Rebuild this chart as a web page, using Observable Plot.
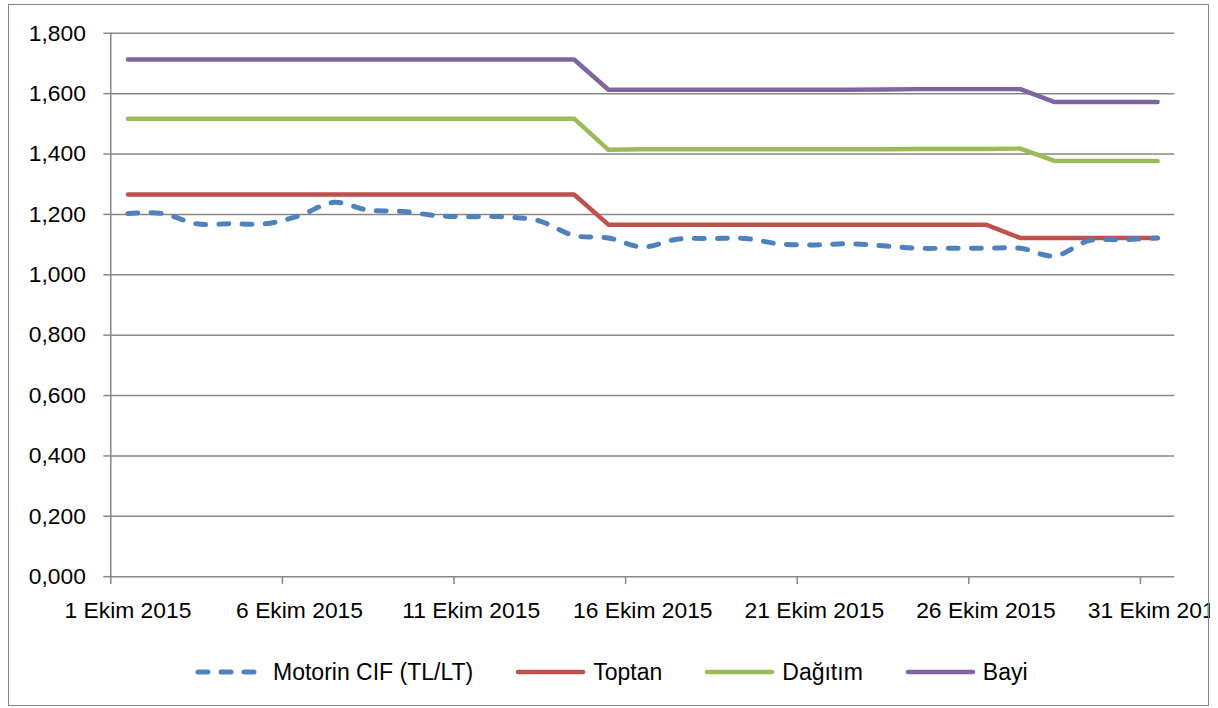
<!DOCTYPE html>
<html><head><meta charset="utf-8">
<script src="https://cdn.jsdelivr.net/npm/d3@7"></script>
<script src="https://cdn.jsdelivr.net/npm/@observablehq/plot@0.6"></script>
<style>
body{margin:0;background:#fff;font-family:"Liberation Sans",Arial,sans-serif;}
#wrap{position:relative;width:1218px;height:708px;overflow:hidden;background:#fff;}
#clip{position:absolute;left:0;top:0;width:1210px;height:708px;overflow:hidden;}
#frame{position:absolute;left:8px;top:4px;width:1199px;height:700px;border:1.5px solid #868686;pointer-events:none;}
#legend{position:absolute;left:0;top:640px;width:1218px;height:64px;display:flex;align-items:center;padding-left:195px;box-sizing:border-box;font-size:23px;color:#000;}
.item{display:flex;align-items:center;margin-right:42px;}
.item svg{margin-right:6px;}
</style>
</head><body>
<div id="wrap"><div id="clip"></div><div id="legend"></div><div id="frame"></div></div>
<script>
const days = d3.range(1, 32);
const motorinCIF = [1.203,1.203,1.169,1.169,1.169,1.196,1.240,1.214,1.210,1.196,1.192,1.192,1.178,1.130,1.122,1.092,1.118,1.120,1.120,1.102,1.099,1.103,1.096,1.088,1.088,1.088,1.088,1.062,1.113,1.116,1.122];
const toptan = [1.266,1.266,1.266,1.266,1.266,1.266,1.266,1.266,1.266,1.266,1.266,1.266,1.266,1.266,1.166,1.166,1.166,1.166,1.166,1.166,1.166,1.166,1.166,1.166,1.166,1.166,1.122,1.122,1.122,1.122,1.122];
const dagitim = [1.517,1.517,1.517,1.517,1.517,1.517,1.517,1.517,1.517,1.517,1.517,1.517,1.517,1.517,1.414,1.416,1.416,1.416,1.416,1.416,1.416,1.416,1.416,1.417,1.417,1.417,1.418,1.377,1.377,1.377,1.377];
const bayi = [1.713,1.713,1.713,1.713,1.713,1.713,1.713,1.713,1.713,1.713,1.713,1.713,1.713,1.713,1.613,1.613,1.613,1.613,1.613,1.613,1.613,1.613,1.614,1.615,1.615,1.615,1.615,1.572,1.572,1.572,1.572];
const yTicks = [0,0.2,0.4,0.6,0.8,1.0,1.2,1.4,1.6,1.8];
const xTickDays = [1,6,11,16,21,26,31];
const seriesNames = ["Motorin CIF (TL/LT)","Toptan","Dağıtım","Bayi"];
const seriesColors = ["#4F81BD","#C0504D","#9BBB59","#8064A2"];

const noon = d => new Date(Date.UTC(2015, 9, d, 12));
const dayStart = d => new Date(Date.UTC(2015, 9, d));
const seriesValues = [motorinCIF, toptan, dagitim, bayi];
const rows = seriesValues.map((vals, i) => days.map((d, j) => ({date: noon(d), value: vals[j], series: seriesNames[i]})));
const grid = "#878787";

const chart = Plot.plot({
  width: 1218, height: 640,
  marginLeft: 111, marginRight: 36, marginTop: 33, marginBottom: 60,
  x: {type: "utc", domain: [dayStart(1), new Date(Date.UTC(2015, 10, 1))]},
  y: {domain: [0, 1.8]},
  style: {fontFamily: "'Liberation Sans', Arial, sans-serif", fontSize: "23px", color: "#000", background: "transparent", overflow: "visible"},
  marks: [
    Plot.ruleY(yTicks, {stroke: grid, strokeWidth: 1.5}),
    Plot.axisY({ticks: yTicks, tickSize: 7, tickPadding: 18, tickFormat: d => d3.format(".3f")(d).replace(".", ","), stroke: grid, strokeWidth: 1.5, strokeOpacity: 1, fill: "#000", fontSize: 23, label: null}),
    Plot.ruleX([dayStart(1)], {stroke: grid, strokeWidth: 1.5}),
    Plot.axisX({ticks: xTickDays.map(dayStart), tickSize: 8, tickFormat: () => "", stroke: grid, strokeWidth: 1.5, strokeOpacity: 1, label: null}),
    Plot.axisX({ticks: xTickDays.map(noon), tickSize: 0, tickPadding: 25, tickFormat: d => `${d.getUTCDate()} Ekim 2015`, fill: "#000", fontSize: 23, label: null}),
    ...[1, 2, 3].map(i => Plot.line(rows[i], {x: "date", y: "value", stroke: seriesColors[i], strokeWidth: 4.5, strokeLinecap: "round", strokeLinejoin: "round"})),
    Plot.line(rows[0], {x: "date", y: "value", stroke: seriesColors[0], strokeWidth: 5, curve: "catmull-rom", strokeDasharray: "10,13.3", strokeLinecap: "round", strokeLinejoin: "round"})
  ]
});
document.getElementById("clip").appendChild(chart);

const legend = document.getElementById("legend");
seriesNames.forEach((name, i) => {
  const item = document.createElement("div");
  item.className = "item";
  const dash = i === 0 ? 'stroke-dasharray="10,13" ' : '';
  const x2 = i === 0 ? 62 : 68;
  item.innerHTML = `<svg width="72" height="12"><line x1="3" y1="6" x2="${x2}" y2="6" stroke="${seriesColors[i]}" stroke-width="${i===0?5:4.5}" stroke-linecap="round" ${dash}/></svg><span>${name}</span>`;
  legend.appendChild(item);
});
</script>
</body></html>
